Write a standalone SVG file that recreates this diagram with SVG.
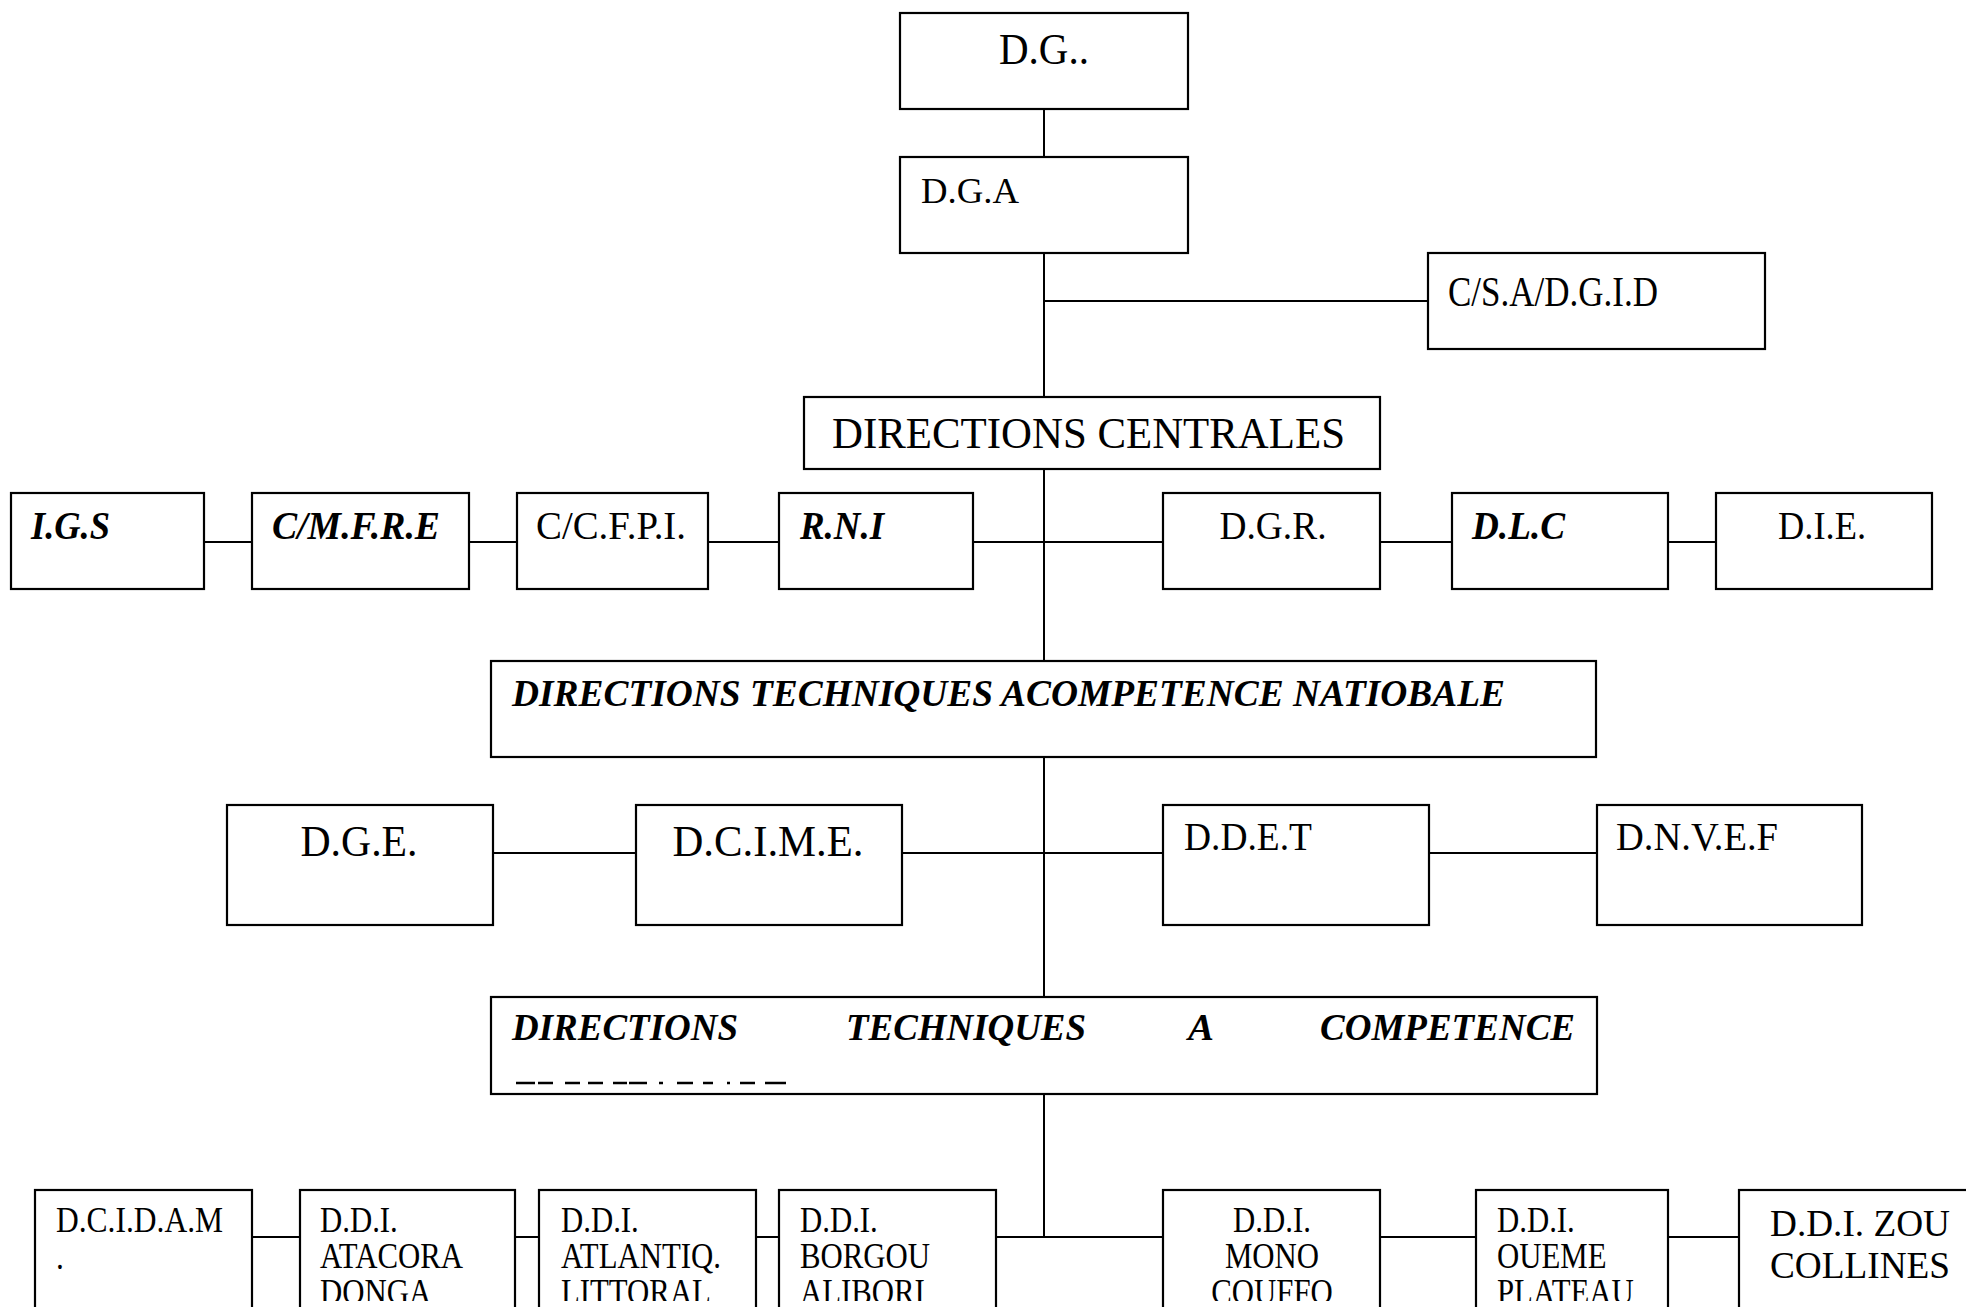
<svg xmlns="http://www.w3.org/2000/svg" width="1966" height="1307" viewBox="0 0 1966 1307">
<defs>
<style>
.box{fill:#fff;stroke:#000;stroke-width:2.2}
.ln{fill:none;stroke:#000;stroke-width:2}
text{font-family:"Liberation Serif","Times New Roman",serif;fill:#000}
.bi{font-weight:bold;font-style:italic}
.r1{font-size:40px}
.r5{font-size:35px}
</style>
<clipPath id="cut"><rect x="0" y="0" width="1966" height="1301"/></clipPath>
</defs>
<rect width="1966" height="1307" fill="#fff"/>
<g id="connectors">
<path class="ln" d="M1044 109V157M1044 253V397M1044 301H1428M1044 469V661M204 542H252M469 542H517M708 542H779M973 542H1163M1380 542H1452M1668 542H1716M1044 757V997M493 853H636M902 853H1163M1429 853H1597M1044 1094V1237M252 1237H300M515 1237H539M756 1237H779M996 1237H1163M1380 1237H1476M1668 1237H1739"/>
</g>
<g id="dg"><rect class="box" x="900" y="13" width="288" height="96"/><text x="1044" y="64" font-size="44" text-anchor="middle" textLength="90" lengthAdjust="spacingAndGlyphs">D.G..</text></g>
<g id="dga"><rect class="box" x="900" y="157" width="288" height="96"/><text x="921" y="203" font-size="36" textLength="98" lengthAdjust="spacingAndGlyphs">D.G.A</text></g>
<g id="csa"><rect class="box" x="1428" y="253" width="337" height="96"/><text x="1448" y="306" font-size="42" textLength="210" lengthAdjust="spacingAndGlyphs">C/S.A/D.G.I.D</text></g>
<g id="dc"><rect class="box" x="804" y="397" width="576" height="72"/><text x="832" y="448" font-size="44" textLength="513" lengthAdjust="spacingAndGlyphs">DIRECTIONS CENTRALES</text></g>
<g id="igs"><rect class="box" x="11" y="493" width="193" height="96"/><text class="r1 bi" x="31" y="539" textLength="79" lengthAdjust="spacingAndGlyphs">I.G.S</text></g>
<g id="cmfre"><rect class="box" x="252" y="493" width="217" height="96"/><text class="r1 bi" x="272" y="539" textLength="168" lengthAdjust="spacingAndGlyphs">C/M.F.R.E</text></g>
<g id="ccfpi"><rect class="box" x="517" y="493" width="191" height="96"/><text class="r1" x="536" y="539" textLength="150" lengthAdjust="spacingAndGlyphs">C/C.F.P.I.</text></g>
<g id="rni"><rect class="box" x="779" y="493" width="194" height="96"/><text class="r1 bi" x="800" y="539" textLength="84" lengthAdjust="spacingAndGlyphs">R.N.I</text></g>
<g id="dgr"><rect class="box" x="1163" y="493" width="217" height="96"/><text class="r1" x="1273" y="539" text-anchor="middle" textLength="107" lengthAdjust="spacingAndGlyphs">D.G.R.</text></g>
<g id="dlc"><rect class="box" x="1452" y="493" width="216" height="96"/><text class="r1 bi" x="1472" y="539" textLength="93" lengthAdjust="spacingAndGlyphs">D.L.C</text></g>
<g id="die"><rect class="box" x="1716" y="493" width="216" height="96"/><text class="r1" x="1822" y="539" text-anchor="middle" textLength="88" lengthAdjust="spacingAndGlyphs">D.I.E.</text></g>
<g id="dtn"><rect class="box" x="491" y="661" width="1105" height="96"/><text class="bi" x="512" y="706" font-size="38" textLength="993" lengthAdjust="spacingAndGlyphs">DIRECTIONS TECHNIQUES ACOMPETENCE NATIOBALE</text></g>
<g id="dge"><rect class="box" x="227" y="805" width="266" height="120"/><text x="359" y="856" font-size="44" text-anchor="middle" textLength="117" lengthAdjust="spacingAndGlyphs">D.G.E.</text></g>
<g id="dcime"><rect class="box" x="636" y="805" width="266" height="120"/><text x="768" y="856" font-size="44" text-anchor="middle" textLength="191" lengthAdjust="spacingAndGlyphs">D.C.I.M.E.</text></g>
<g id="ddet"><rect class="box" x="1163" y="805" width="266" height="120"/><text x="1184" y="850" font-size="40" textLength="128" lengthAdjust="spacingAndGlyphs">D.D.E.T</text></g>
<g id="dnvef"><rect class="box" x="1597" y="805" width="265" height="120"/><text x="1616" y="850" font-size="40" textLength="162" lengthAdjust="spacingAndGlyphs">D.N.V.E.F</text></g>
<g id="dtr"><rect class="box" x="491" y="997" width="1106" height="97"/>
<text class="bi" y="1040" font-size="38"><tspan x="512" textLength="226" lengthAdjust="spacingAndGlyphs">DIRECTIONS</tspan><tspan x="846" textLength="240" lengthAdjust="spacingAndGlyphs">TECHNIQUES</tspan><tspan x="1188" textLength="26" lengthAdjust="spacingAndGlyphs">A</tspan><tspan x="1320" textLength="255" lengthAdjust="spacingAndGlyphs">COMPETENCE</tspan></text>
<path fill="none" stroke="#000" stroke-width="2.5" d="M516 1083H535M538 1083H553M565 1083H580M588 1083H603M613 1083H627M629 1083H647M659 1083H663M677 1083H693M703 1083H713M727 1083H730M740 1083H755M765 1083H786"/>
</g>
<g id="dcidam"><rect class="box" x="35" y="1190" width="217" height="140"/><g clip-path="url(#cut)"><text class="r5" transform="translate(56 1232) scale(0.9 1)">D.C.I.D.A.M</text><text class="r5" transform="translate(56 1269) scale(0.9 1)">.</text></g></g>
<g id="atacora"><rect class="box" x="300" y="1190" width="215" height="140"/><g clip-path="url(#cut)"><text class="r5" transform="translate(320 1232) scale(0.88 1)">D.D.I.</text><text class="r5" transform="translate(320 1268) scale(0.88 1)">ATACORA</text><text class="r5" transform="translate(320 1304) scale(0.88 1)">DONGA</text></g></g>
<g id="atlantiq"><rect class="box" x="539" y="1190" width="217" height="140"/><g clip-path="url(#cut)"><text class="r5" transform="translate(561 1232) scale(0.88 1)">D.D.I.</text><text class="r5" transform="translate(561 1268) scale(0.88 1)">ATLANTIQ.</text><text class="r5" transform="translate(561 1304) scale(0.88 1)">LITTORAL</text></g></g>
<g id="borgou"><rect class="box" x="779" y="1190" width="217" height="140"/><g clip-path="url(#cut)"><text class="r5" transform="translate(800 1232) scale(0.88 1)">D.D.I.</text><text class="r5" transform="translate(800 1268) scale(0.88 1)">BORGOU</text><text class="r5" transform="translate(800 1304) scale(0.88 1)">ALIBORI</text></g></g>
<g id="mono"><rect class="box" x="1163" y="1190" width="217" height="140"/><g clip-path="url(#cut)"><text class="r5" text-anchor="middle" transform="translate(1272 1232) scale(0.88 1)">D.D.I.</text><text class="r5" text-anchor="middle" transform="translate(1272 1268) scale(0.88 1)">MONO</text><text class="r5" text-anchor="middle" transform="translate(1272 1304) scale(0.88 1)">COUFFO</text></g></g>
<g id="oueme"><rect class="box" x="1476" y="1190" width="192" height="140"/><g clip-path="url(#cut)"><text class="r5" transform="translate(1497 1232) scale(0.88 1)">D.D.I.</text><text class="r5" transform="translate(1497 1268) scale(0.88 1)">OUEME</text><text class="r5" transform="translate(1497 1304) scale(0.88 1)">PLATEAU</text></g></g>
<g id="zou"><rect class="box" x="1739" y="1190" width="240" height="140"/><text x="1770" y="1236" font-size="38" textLength="180" lengthAdjust="spacingAndGlyphs">D.D.I. ZOU</text><text x="1770" y="1278" font-size="38" textLength="180" lengthAdjust="spacingAndGlyphs">COLLINES</text></g>
</svg>
